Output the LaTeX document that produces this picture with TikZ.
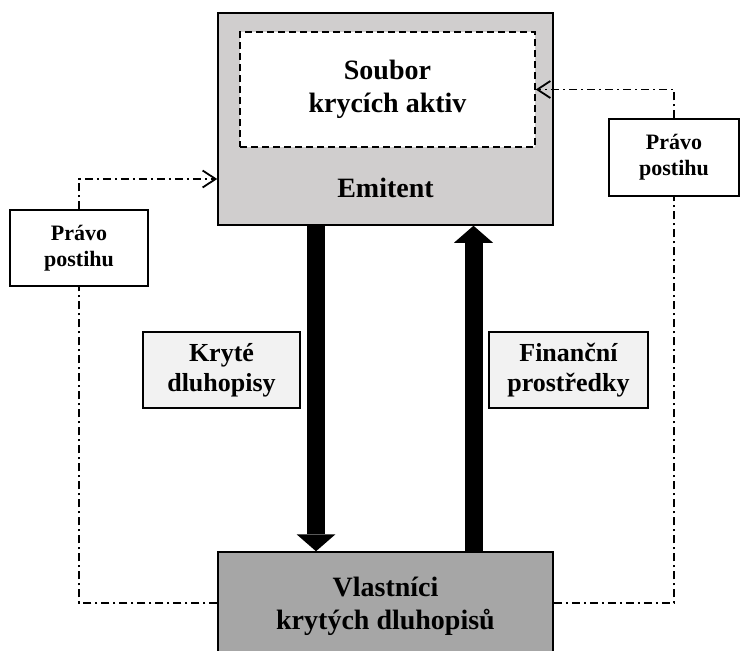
\documentclass[tikz,border=0pt]{standalone}
\usepackage{fontspec}
\setmainfont{Liberation Serif}
\usetikzlibrary{arrows.meta}

\definecolor{emitentgray}{HTML}{D0CECE}
\definecolor{ownergray}{HTML}{A6A6A6}
\definecolor{notegray}{HTML}{F2F2F2}

\tikzset{
  box/.style={draw, line width=1.5pt, align=center, inner sep=0pt},
  mainfont/.style={font=\fontsize{28}{33}\selectfont\bfseries},
  flowbox/.style={box, fill=notegray, minimum width=157pt, minimum height=76pt,
    font=\fontsize{26}{30}\selectfont\bfseries},
  claimbox/.style={box, fill=white, minimum height=76pt,
    font=\fontsize{22}{26}\selectfont\bfseries},
  bigarrow/.style={line width=18pt, -{Triangle[length=17pt,width=39pt,line width=0pt]}},
  recourse/.style={line width=1.8pt, dash pattern=on 8pt off 4pt on 2pt off 4pt},
  recourse tip/.style={recourse, -{Straight Barb[length=13pt,width=17pt]}},
}

\begin{document}
\begin{tikzpicture}[x=1pt, y=-1pt]
  \useasboundingbox (0,0) rectangle (740,651);
  \clip (0,0) rectangle (740,651);

  % emitent s krycimi aktivy
  \node[box, fill=emitentgray, minimum width=335pt, minimum height=212pt] (emitent) at (385.5,119) {};
  \node[box, fill=white, dash pattern=on 7pt off 4pt, minimum width=295pt, minimum height=115pt, mainfont]
    (soubor) at (387.5,89.5) {Soubor\\krycích aktiv};
  \node[mainfont] (emitentlabel) at (385.5,188) {Emitent};

  % vlastnici
  \node[box, fill=ownergray, minimum width=335pt, minimum height=108pt, mainfont]
    (vlastnici) at (385.5,606) {Vlastníci\\krytých dluhopisů};

  % toky
  \node[flowbox] (kryte) at (221.5,370) {Kryté\\dluhopisy};
  \node[flowbox, minimum width=159pt] (financni) at (568.5,370) {Finanční\\prostředky};
  \draw[bigarrow] ([xshift=-69.5pt]emitent.south) -- ([xshift=-69.5pt]vlastnici.north);
  \draw[bigarrow] ([xshift=88pt]vlastnici.north) -- ([xshift=88pt]emitent.south);

  % pravo postihu
  \node[claimbox, minimum width=138pt] (postihL) at (79,248) {Právo\\postihu};
  \node[claimbox, minimum width=130pt, minimum height=77pt] (postihR) at (674,157.5) {Právo\\postihu};
  \draw[recourse tip] (postihL.north) |- ([yshift=-60pt]emitent.west);
  \draw[recourse] ([yshift=3pt]vlastnici.west) -| (postihL.south);
  \draw[recourse tip] (postihR.north) |- (soubor.east);
  \draw[recourse] ([yshift=3pt]vlastnici.east) -| (postihR.south);
\end{tikzpicture}
\end{document}
